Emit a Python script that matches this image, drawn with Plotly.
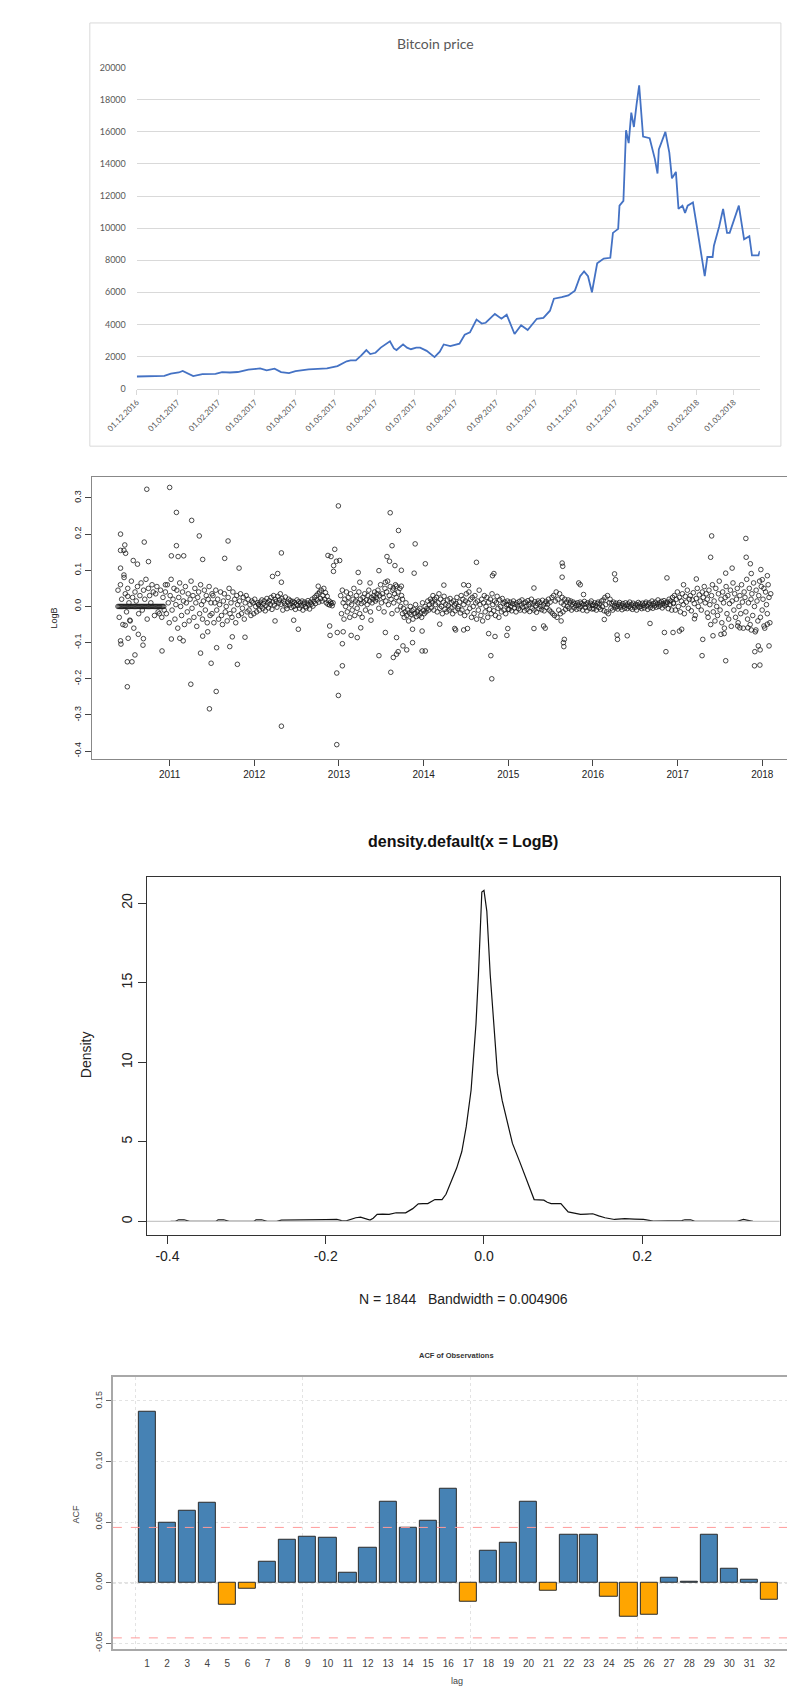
import numpy as np
import plotly.graph_objects as go

W, H = 795, 1686
def px_x(p): return p / W
def px_y(p): return 1 - p / H

# ---------------- Panel 1: Bitcoin price ----------------
price_dates = ["2016-12-01","2016-12-10","2016-12-22","2016-12-27","2017-01-02","2017-01-05","2017-01-09","2017-01-13",
    "2017-01-20","2017-01-26","2017-01-30","2017-02-04","2017-02-10","2017-02-16","2017-02-24","2017-03-02","2017-03-05",
    "2017-03-10","2017-03-16","2017-03-21","2017-03-27","2017-04-01","2017-04-06","2017-04-11","2017-04-18","2017-04-25",
    "2017-05-03","2017-05-10","2017-05-13","2017-05-17","2017-05-21","2017-05-25","2017-05-28","2017-06-01","2017-06-05",
    "2017-06-08","2017-06-12","2017-06-15","2017-06-17","2017-06-22","2017-06-25","2017-06-28","2017-07-02","2017-07-05",
    "2017-07-10","2017-07-16","2017-07-20","2017-07-23","2017-07-28","2017-08-04","2017-08-08","2017-08-12","2017-08-17",
    "2017-08-21","2017-08-24","2017-08-31","2017-09-05","2017-09-09","2017-09-15","2017-09-20","2017-09-25","2017-10-02",
    "2017-10-07","2017-10-12","2017-10-15","2017-10-21","2017-10-26","2017-10-31","2017-11-04","2017-11-07","2017-11-10",
    "2017-11-13","2017-11-17","2017-11-22","2017-11-27","2017-11-29","2017-12-03","2017-12-04","2017-12-07","2017-12-09",
    "2017-12-11","2017-12-13","2017-12-15","2017-12-17","2017-12-19","2017-12-22","2017-12-27","2017-12-31","2018-01-02",
    "2018-01-03","2018-01-08","2018-01-11","2018-01-13","2018-01-16","2018-01-18","2018-01-21","2018-01-23","2018-01-25",
    "2018-01-29","2018-02-01","2018-02-03","2018-02-05","2018-02-07","2018-02-09","2018-02-13","2018-02-14","2018-02-18",
    "2018-02-21","2018-02-24","2018-02-26","2018-03-01","2018-03-05","2018-03-09","2018-03-13","2018-03-15","2018-03-18",
    "2018-03-20","2018-03-21"]
price_values = [750,770,790,930,1000,1100,920,780,
    900,910,920,1020,1000,1030,1180,1230,1260,
    1130,1240,1030,960,1080,1150,1200,1230,1260,
    1400,1700,1750,1750,2050,2400,2150,2230,2550,
    2700,2950,2500,2400,2750,2550,2450,2550,2550,
    2350,1960,2300,2750,2650,2800,3350,3500,4300,
    4050,4100,4650,4350,4600,3400,3950,3650,4350,
    4400,4850,5600,5700,5800,6100,7000,7300,7000,
    6000,7800,8100,8150,9700,9950,11400,11700,16100,
    15300,17200,16300,17700,18900,15700,15600,14300,13400,
    14900,16000,14700,13100,13500,11200,11400,10950,11400,
    11600,10100,9100,8000,7000,8200,8200,8900,10100,
    11200,9700,9700,10450,11400,9300,9500,8300,8300,
    8300,8580]

# ---------------- Panel 2: LogB scatter (decimal years) ----------------
seg_bounds = [(2010.39, 2010.93), (2010.39, 2010.95), (2010.95, 2011.5), (2011.5, 2012.05),
              (2012.05, 2012.93), (2013.02, 2013.45), (2013.45, 2013.75), (2013.75, 2014.1),
              (2014.1, 2015.0), (2015.0, 2016.0), (2016.0, 2016.95), (2016.95, 2017.35), (2017.35, 2018.1)]
logb_a = [0,0,0,0,0,0,0,0,0,0,0,0,0,0,0,0,0,0,0,0,0,0,0,0,0,0,0,0,0,0,0,0,0,0,0,0,0,0,0,0]
logb_b = [.045,-.03,.06,.02,-.05,.08,.035,-.015,.05,.01,-.04,.07,.025,-.06,.04,.015,.055,-.02,.03,.065,
          -.01,.045,.02,.075,-.035,.05,.03,.01,.06,.04,-.025,.035,.055,-.015,-.02,.045,-.03,.025,-.01,.06]
logb_c = [.04,-.02,.06,.01,-.045,.03,.075,-.01,.02,.05,-.035,.005,.045,-.06,.025,.065,.0,-.025,.04,.015,
          -.05,.055,.01,-.015,.035,-.04,.02,.07,-.005,.03,-.03,.05,.01,-.055,.025,.04,-.02,.06,.005,-.035,
          .015,.045,-.01,.03,-.045,.02,.055,-.025,.01,.035]
logb_d = [-.02,.03,-.045,.01,.045,-.01,.02,-.035,.005,.04,-.025,-.05,.015,.035,-.015,.0,-.04,.025,.05,-.02,
          .01,-.03,.04,-.01,.02,-.045,.03,.005,-.025,.015,.035,-.02,-.005,.025,-.035,.01,.03,-.015,.02,-.01,
          .005,-.025,.015,.01,-.02,.02,.0,-.015,.01,.005]
logb_e = [.005,-.01,.012,.0,.018,-.006,.008,.015,-.012,.003,.022,.01,-.004,.016,.006,.025,-.008,.012,.03,.004,
          .02,.014,-.002,.028,.01,.018,.035,.006,.022,-.01,.015,.008,.026,.002,-.006,.012,.02,.004,.016,-.003,
          .009,.014,.0,.011,-.008,.006,.018,.003,.013,-.005,.01,.002,.015,-.01,.007,.012,.0,-.004,.009,.016,
          .004,-.007,.012,.006,.02,.001,.014,.025,.008,.03,.018,.035,.012,.04,.022,.045,.015,.03,.05,.02,
          .038,.01,.028,.006,.016,.004,.012,.008,.002,.01]
logb_f = [.03,-.02,.045,.01,-.035,.02,.0,.04,-.015,.025,.01,-.03,.035,.005,-.01,.02,.05,-.025,.015,.03,
          -.005,.01,.04,-.02,.02,.008,-.03,.025,.012,.035,-.01,.018,.005,.03,.045,.015,-.015,.025,.01,.02,
          .03,.04,.015,.025,.035]
logb_g = [.02,.045,-.005,.03,.06,.01,.035,.025,-.015,.05,.015,.04,.07,.005,.03,.055,.02,-.02,.045,.01,
          .035,.06,.025,-.01,.04,.015,.05,.0,.03,.02]
logb_h = [-.02,-.005,-.03,-.015,.01,-.025,-.01,-.04,-.018,.0,-.022,-.012,-.035,-.008,-.02,.005,-.028,-.015,
          -.01,-.025,-.005,-.018,-.03,.01,-.012,-.02,.0,-.015,-.006,.015,-.01,.005,.02,-.004,.01]
logb_i = [.015,.03,-.01,.02,.005,.025,-.015,.01,.035,-.005,.02,.0,-.02,.012,.028,-.008,.006,-.015,.018,.002,
          -.01,.022,-.004,.01,-.02,.015,.004,-.012,.008,.025,-.006,.0,.012,-.018,.03,-.01,.02,.005,-.025,.015,
          .035,-.015,.01,.04,-.005,.02,-.03,.025,.0,-.02,.03,.01,-.035,.015,-.01,.045,.005,-.025,.02,-.04,
          .01,.03,-.015,.0,.025,-.03,.012,-.008,.02,-.02,.035,.005,-.012,.015,-.025,.01,.028,-.005,-.03,.018,
          .0,-.015,.022,.008,-.01,.012,-.02,.005,.015,-.008]
logb_j = [.005,-.008,.012,.0,-.012,.008,.015,-.004,.006,-.015,.01,.002,-.006,.014,-.01,.004,.018,-.002,.009,-.012,
          .012,.0,-.008,.016,.005,-.014,.01,.02,-.005,.007,-.01,.013,.002,-.016,.008,.015,-.006,.011,.0,-.009,
          .017,.004,-.012,.009,.014,-.003,.006,.02,-.01,.012,-.015,.025,-.02,.03,-.025,.015,.04,-.03,.02,-.01,
          .035,-.02,.01,.025,-.015,.005,.02,-.008,.012,.0,.018,-.005,.01,.015,-.01,.006,.012,-.004,.008,.002,
          -.008,.01,.004,-.006,.012,.0,.008,-.01,.005,.014,-.003,.007,-.012,.01,.002,-.005,.009,.015,-.007,.004]
logb_k = [.004,-.006,.01,.002,-.01,.008,.012,-.003,.006,-.008,.015,.0,.018,-.012,.025,.005,-.015,.03,-.02,.01,
          .02,-.005,.008,-.01,.012,.003,-.004,.009,.0,-.007,.006,.011,-.002,.004,-.009,.008,.001,-.005,.01,.003,
          -.006,.007,.0,.012,-.004,.005,-.008,.009,.002,-.003,.006,-.01,.004,.011,-.002,.007,.0,-.006,.009,.003,
          -.004,.008,.012,.001,-.008,.006,.01,-.003,.004,.015,-.005,.008,.002,.012,-.002,.006,.018,.0,.01,.004,
          .014,-.004,.008,.016,.002,.01,.006,.012,-.006,.02,.005,.015,-.01,.025,.008]
logb_l = [.01,.03,-.01,.02,.04,.0,.025,-.015,.015,.035,.005,-.02,.028,.012,.045,-.005,.02,.03,-.012,.018,
          .038,.008,-.025,.022,.05,.0,.032,.015,-.01,.04,.025,.055,.01,.035,-.018]
logb_m = [.02,-.03,.045,.005,-.05,.03,.06,-.015,.015,-.04,.05,.0,-.025,.035,.07,-.01,.02,-.045,.04,.01,
          -.06,.025,.055,-.02,.03,-.035,.008,.045,-.055,.015,.065,-.01,.035,-.03,.02,.05,-.045,.0,.03,-.02,
          .06,.012,-.06,.04,.025,-.015,.075,-.035,.01,.05,-.05,.02,.035,-.025,.065,.0,-.07,.045,.015,-.04,
          .03,.07,-.03,.055,-.01,.02,.05,-.06,.04,.005,-.02,.06,.025,-.045,.035]
logb_segments = [logb_a, logb_b, logb_c, logb_d, logb_e, logb_f, logb_g, logb_h,
                 logb_i, logb_j, logb_k, logb_l, logb_m]

outlier_years = [2010.73,2011.0,2011.08,2011.26,2010.42,2010.70,2011.35,2011.69,2011.08,2010.47,2010.42,2010.46,2010.48,
    2011.39,2011.65,2011.82,2011.02,2011.10,2011.166,2010.42,2010.46,2010.57,2010.62,2010.75,2010.505,2010.475,2010.53,
    2010.42,2010.425,2010.51,2010.50,2010.555,2010.59,2010.63,2010.69,2010.685,2010.50,2010.91,2011.02,2011.12,2011.16,
    2011.25,2011.365,2011.49,2011.55,2011.47,2011.555,2011.71,2011.80,2011.89,2011.74,2011.39,2011.45,
    2012.32,2012.215,2012.276,2012.32,2012.32,2012.52,2012.465,2012.245,2012.755,2012.87,2012.906,2012.95,2012.937,
    2012.97,2013.008,2012.935,2012.993,2012.89,2012.895,2012.98,2013.05,2013.04,2013.04,2012.974,2012.993,2012.974,
    2013.227,2013.246,2013.367,2013.144,2013.216,2013.257,2013.378,2013.605,2013.703,2013.627,2013.90,2013.567,
    2013.597,2013.661,2013.737,2014.02,2013.888,2013.472,2013.548,2013.642,2013.68,2013.737,2013.472,2013.612,
    2013.642,2013.68,2013.699,2013.548,2013.68,2013.756,2013.80,2013.869,2013.982,2014.02,2013.869,2013.982,
    2014.624,2014.813,2014.83,2014.239,2014.473,2014.53,2014.768,2014.843,2014.794,2014.805,2014.983,2014.994,
    2014.367,2014.378,2014.473,2014.518,2014.19,2015.303,2015.303,2015.417,2015.436,2015.636,2015.643,2015.636,
    2015.662,2015.651,2015.656,2015.624,2015.832,2015.85,2015.889,2016.134,
    2016.255,2016.266,2016.285,2016.29,2016.405,2016.674,2016.874,2016.844,2016.946,2017.021,2017.048,2016.862,
    2017.07,2017.221,2017.289,2017.297,2017.199,2017.402,2017.39,2017.568,2017.512,2017.55,2017.418,2017.644,
    2017.568,2017.806,2017.81,2017.859,2017.87,2017.983,2018.0,2018.06,2017.908,2017.972,2017.912,2017.953,
    2017.975,2018.08,2017.83,2017.87,2017.925,2018.02,2018.06,2017.71,2017.735]
outlier_values = [0.324,0.329,0.26,0.238,0.20,0.178,0.195,0.181,0.168,0.17,0.155,0.155,0.147,
    0.13,0.133,0.106,0.14,0.138,0.14,0.106,0.087,0.127,0.117,0.124,0.028,-0.052,-0.038,
    -0.095,-0.104,-0.088,-0.153,-0.153,-0.134,-0.077,-0.089,-0.107,-0.222,-0.123,-0.09,-0.088,-0.095,
    -0.215,-0.129,-0.157,-0.235,-0.283,-0.114,-0.111,-0.16,-0.085,-0.084,-0.082,-0.07,
    0.148,0.083,0.091,0.067,-0.331,-0.063,-0.038,-0.040,0.056,0.141,0.138,0.158,0.113,
    0.125,0.127,0.097,0.278,-0.054,-0.080,-0.072,-0.07,-0.103,-0.164,-0.184,-0.246,-0.382,
    0.094,0.067,0.065,-0.080,-0.086,-0.059,-0.038,0.259,0.21,0.168,0.173,0.138,
    0.125,0.113,0.10,0.118,0.092,0.099,0.067,0.051,0.056,0.056,-0.136,-0.182,
    -0.141,-0.132,-0.125,-0.072,-0.086,-0.109,-0.12,-0.10,-0.123,-0.123,-0.063,-0.068,
    0.122,0.085,0.091,0.059,0.060,0.058,-0.075,-0.083,-0.136,-0.20,-0.080,-0.061,
    -0.061,-0.065,-0.065,-0.061,-0.049,0.051,-0.061,-0.054,-0.06,0.12,0.111,0.081,
    -0.091,-0.10,-0.111,-0.04,0.065,0.06,0.033,-0.036,
    0.09,0.074,-0.079,-0.091,-0.081,-0.047,0.079,-0.072,-0.072,-0.068,-0.063,-0.125,
    0.06,0.076,-0.136,-0.091,-0.034,0.195,0.136,-0.15,-0.077,-0.075,-0.081,0.106,
    0.092,0.188,0.136,0.118,0.091,0.102,0.074,0.085,-0.164,-0.162,-0.125,-0.109,
    -0.12,-0.109,-0.059,-0.065,-0.065,-0.054,-0.049,-0.054,-0.059]
year_ticks = [2011, 2012, 2013, 2014, 2015, 2016, 2017, 2018]
logb_ticks = [-0.4, -0.3, -0.2, -0.1, 0.0, 0.1, 0.2, 0.3]

# ---------------- Panel 3: density ----------------
dens_x = [-0.396,-0.39,-0.386,-0.383,-0.379,-0.372,-0.35,-0.339,-0.336,-0.333,-0.329,-0.322,-0.30,-0.291,-0.288,
    -0.285,-0.281,-0.274,-0.262,-0.256,-0.24,-0.22,-0.20,-0.186,-0.18,-0.174,-0.168,-0.162,-0.156,-0.15,-0.144,
    -0.14,-0.135,-0.128,-0.12,-0.111,-0.105,-0.099,-0.09,-0.083,-0.077,-0.071,-0.062,-0.053,-0.048,-0.044,-0.039,
    -0.0345,-0.028,-0.0224,-0.0163,-0.0101,-0.007,-0.0027,0.0,0.0036,0.0079,0.014,0.017,0.023,0.0295,0.036,0.045,
    0.054,0.0634,0.0757,0.08,0.0849,0.0972,0.1064,0.115,0.122,0.13,0.1375,0.145,0.153,0.165,0.178,0.19,0.2016,
    0.214,0.23,0.25,0.254,0.257,0.261,0.266,0.28,0.29,0.30,0.31,0.32,0.325,0.328,0.332,0.336,0.34]
dens_y = [0.0,0.0,0.1,0.12,0.1,0.0,0.0,0.0,0.1,0.12,0.1,0.0,0.0,0.0,0.1,
    0.12,0.1,0.0,0.0,0.08,0.1,0.1,0.11,0.12,0.05,0.03,0.15,0.23,0.27,0.18,0.08,
    0.2,0.44,0.45,0.44,0.54,0.55,0.54,0.8,1.10,1.12,1.12,1.37,1.37,1.7,2.2,2.8,
    3.35,4.39,5.95,8.24,12.4,15.5,20.7,20.8,19.5,15.5,11.4,9.3,7.6,6.2,4.9,3.77,
    2.6,1.37,1.33,1.2,1.12,1.12,0.6,0.5,0.44,0.46,0.48,0.35,0.23,0.12,0.17,0.14,0.12,
    0.02,0.03,0.05,0.1,0.12,0.1,0.02,0.0,0.02,0.0,0.0,0.0,0.08,0.12,0.08,0.02,0.0]
dens_xticks = [-0.4, -0.2, 0.0, 0.2]
dens_yticks = [0, 5, 10, 15, 20]

# ---------------- Panel 4: ACF ----------------
acf_lags = list(range(1, 33))
acf_values = [0.1413,0.0492,0.0590,0.0656,-0.0180,-0.0049,0.0175,0.0355,0.0377,0.0374,0.0079,0.0290,
              0.0669,0.0456,0.0511,0.0773,-0.0158,0.0260,0.0328,0.0667,-0.0066,0.0393,0.0396,-0.0120,
              -0.0281,-0.0262,0.0041,0.0008,0.0396,0.0117,0.0022,-0.0145]
acf_ci = 0.0456
acf_yticks = [-0.05, 0.0, 0.05, 0.10, 0.15]

# =======================================================
fig = go.Figure()

fig.add_trace(go.Scatter(x=price_dates, y=price_values, mode="lines",
                         line=dict(color="#4472C4", width=1.8), xaxis="x", yaxis="y", showlegend=False))

sx, sy = [], []
for (a, b), vals in zip(seg_bounds, logb_segments):
    sx.extend(np.linspace(a, b, len(vals)).tolist())
    sy.extend(vals)
sx.extend(outlier_years)
sy.extend(outlier_values)
fig.add_trace(go.Scatter(x=sx, y=sy, mode="markers",
                         marker=dict(symbol="circle-open", size=4.6, color="#1a1a1a", line=dict(width=0.8)),
                         xaxis="x2", yaxis="y2", showlegend=False))

fig.add_trace(go.Scatter(x=dens_x, y=dens_y, mode="lines", line=dict(color="#111", width=1.2),
                         xaxis="x3", yaxis="y3", showlegend=False))

bar_colors = ["#4682B4" if v >= 0 else "#FFA500" for v in acf_values]
fig.add_trace(go.Bar(x=acf_lags, y=acf_values, width=0.86,
                     marker=dict(color=bar_colors, line=dict(color="#2b2b2b", width=1)),
                     xaxis="x4", yaxis="y4", showlegend=False))
fig.add_trace(go.Scatter(x=[0], y=[0], mode="markers", marker=dict(opacity=0),
                         xaxis="x5", yaxis="y4", showlegend=False, hoverinfo="skip"))

excel_font = dict(family="Lato, Liberation Sans, sans-serif", size=9, color="#595959")
r_font = dict(family="Liberation Sans, Arial, sans-serif", size=10, color="#222")

fig.update_layout(
    width=W, height=H, margin=dict(l=0, r=0, t=0, b=0),
    paper_bgcolor="white", plot_bgcolor="white", bargap=0,
    xaxis=dict(domain=[px_x(101), px_x(751)], anchor="y", type="date",
               range=["2016-12-01", "2018-03-21"], tick0="2016-12-01", dtick="M1",
               tickformat="%d.%m.%Y", tickangle=-45, tickfont=dict(excel_font, size=8),
               showline=True, linecolor="#d9d9d9", linewidth=1, ticks="outside", ticklen=5,
               tickcolor="#d9d9d9", showgrid=False, zeroline=False),
    yaxis=dict(domain=[px_y(377), px_y(54)], anchor="x", range=[0, 20000], dtick=2000,
               tickformat="d", tickfont=excel_font, gridcolor="#d9d9d9", gridwidth=1,
               showline=False, zeroline=False, ticks="", ticklabelstandoff=10),
    xaxis2=dict(domain=[px_x(54), px_x(788)], anchor="y2", range=[2010.08, 2018.39],
                tickvals=year_ticks, ticktext=[str(t) for t in year_ticks], tickfont=r_font,
                ticks="outside", ticklen=6, tickcolor="#444", showline=True, mirror=True,
                linecolor="#888", linewidth=1.2, showgrid=False, zeroline=False),
    yaxis2=dict(domain=[px_y(750), px_y(466)], anchor="x2", range=[-0.422, 0.358],
                tickvals=logb_ticks, ticktext=["%.1f" % t for t in logb_ticks], tickangle=-90,
                tickfont=dict(r_font, size=9), ticks="outside", ticklen=6, tickcolor="#444",
                showline=True, mirror=True, linecolor="#888", linewidth=1.2, showgrid=False, zeroline=False),
    xaxis3=dict(domain=[px_x(111.7), px_x(771.6)], anchor="y3", range=[-0.4258, 0.3736],
                tickvals=dens_xticks, ticktext=["%.1f" % t for t in dens_xticks],
                tickfont=dict(r_font, size=14), ticks="outside", ticklen=8, tickcolor="#333",
                showline=True, mirror=True, linecolor="#333", linewidth=1.3, showgrid=False, zeroline=False),
    yaxis3=dict(domain=[px_y(1229), px_y(869)], anchor="x3", range=[-0.855, 21.62],
                tickvals=dens_yticks, ticktext=[str(t) for t in dens_yticks], tickangle=-90,
                tickfont=dict(r_font, size=14), ticks="outside", ticklen=8, tickcolor="#333",
                showline=True, mirror=True, linecolor="#333", linewidth=1.3, showgrid=False, zeroline=False),
    xaxis4=dict(domain=[px_x(76), px_x(794)], anchor="y4", range=[-0.704, 33.57],
                tickvals=acf_lags, ticktext=[str(t) for t in acf_lags], tickfont=dict(r_font, size=10, color="#444"),
                ticks="", ticklabelstandoff=4, showline=True, mirror=True, linecolor="#a8a8a8",
                linewidth=2, showgrid=False, zeroline=False),
    xaxis5=dict(domain=[px_x(76), px_x(794)], anchor="y4", overlaying="x4",
                range=[-1.345, 39.78], tick0=0, dtick=10, showticklabels=False, ticks="",
                showgrid=True, gridcolor="#e3e3e3", griddash="dot", gridwidth=1, zeroline=False, showline=False),
    yaxis4=dict(domain=[px_y(1646), px_y(1371.7)], anchor="x4", range=[-0.055, 0.170],
                tickvals=acf_yticks, ticktext=["%.2f" % t for t in acf_yticks], tickangle=-90,
                tickfont=dict(r_font, size=9, color="#444"), ticks="outside", ticklen=5, tickcolor="#666",
                showline=True, mirror=True, linecolor="#a8a8a8", linewidth=2,
                showgrid=True, gridcolor="#e3e3e3", griddash="dot", gridwidth=1, zeroline=False),
)

shapes = [
    dict(type="rect", xref="paper", yref="paper", x0=px_x(52), x1=px_x(773), y0=px_y(435), y1=px_y(9),
         line=dict(color="#d9d9d9", width=1)),
    dict(type="line", xref="x3 domain", yref="y3", x0=0, x1=1, y0=0, y1=0,
         line=dict(color="#c8c8c8", width=1.4), layer="above"),
    dict(type="line", xref="x4 domain", yref="y4", x0=0, x1=1, y0=acf_ci, y1=acf_ci,
         line=dict(color="#ff9a9a", width=1, dash="dash"), layer="above"),
    dict(type="line", xref="x4 domain", yref="y4", x0=0, x1=1, y0=-acf_ci, y1=-acf_ci,
         line=dict(color="#ff9a9a", width=1, dash="dash"), layer="above"),
    dict(type="line", xref="x4 domain", yref="y4", x0=0, x1=1, y0=0, y1=0,
         line=dict(color="#333", width=1, dash="dot"), layer="below"),
]
fig.update_layout(shapes=shapes)

ann = [
    dict(text="Bitcoin price", x=px_x(412.5), y=px_y(30), font=dict(excel_font, size=14)),
    dict(text="LogB", x=px_x(15), y=px_y(608), textangle=-90, font=dict(r_font, size=9)),
    dict(text="<b>density.default(x = LogB)</b>", x=px_x(441.6), y=px_y(833),
         font=dict(r_font, size=16, color="#111")),
    dict(text="Density", x=px_x(48), y=px_y(1048), textangle=-90, font=dict(r_font, size=14)),
    dict(text="N = 1844   Bandwidth = 0.004906", x=px_x(441.6), y=px_y(1293), font=dict(r_font, size=14)),
    dict(text="<b>ACF of Observations</b>", x=px_x(435), y=px_y(1350), font=dict(r_font, size=7.5, color="#333")),
    dict(text="ACF", x=px_x(38), y=px_y(1510), textangle=-90, font=dict(r_font, size=9, color="#444")),
    dict(text="lag", x=px_x(435), y=px_y(1678), font=dict(r_font, size=9, color="#444")),
]
for a in ann:
    a.update(xref="paper", yref="paper", showarrow=False, xanchor="center", yanchor="middle")
fig.update_layout(annotations=ann)

fig.write_html("out.html")
